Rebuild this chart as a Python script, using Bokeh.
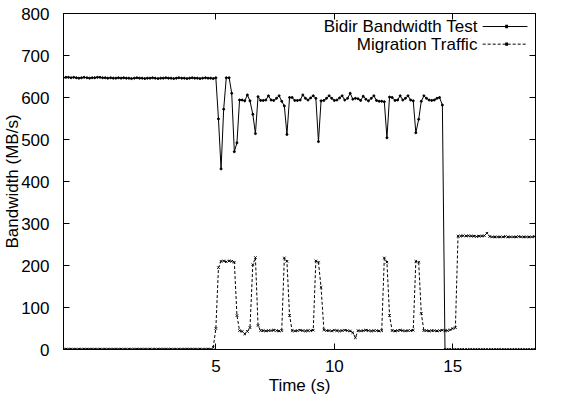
from bokeh.plotting import figure
from bokeh.models import (Range1d, LinearAxis, FixedTicker, Label, Arrow,
                          BoxAnnotation, ColumnDataSource)
from bokeh.embed import file_html
from bokeh.resources import INLINE

# ---------------- data ----------------
time = [
    -1.44, -1.33, -1.22, -1.11, -1.00, -0.89, -0.78, -0.67, -0.56, -0.44, -0.33, -0.22, -0.11,
    0.00, 0.11, 0.22, 0.33, 0.44, 0.56, 0.67, 0.78, 0.89,
    1.00, 1.11, 1.22, 1.33, 1.44, 1.56, 1.67, 1.78, 1.89,
    2.00, 2.11, 2.22, 2.33, 2.44, 2.56, 2.67, 2.78, 2.89,
    3.00, 3.11, 3.22, 3.33, 3.44, 3.56, 3.67, 3.78, 3.89,
    4.00, 4.11, 4.22, 4.33, 4.44, 4.56, 4.67, 4.78, 4.89,
    5.00, 5.11, 5.22, 5.33, 5.44, 5.56, 5.67, 5.78, 5.89,
    6.00, 6.11, 6.22, 6.33, 6.44, 6.56, 6.67, 6.78, 6.89,
    7.00, 7.11, 7.22, 7.33, 7.44, 7.56, 7.67, 7.78, 7.89,
    8.00, 8.11, 8.22, 8.33, 8.44, 8.56, 8.67, 8.78, 8.89,
    9.00, 9.11, 9.22, 9.33, 9.44, 9.56, 9.67, 9.78, 9.89,
    10.00, 10.11, 10.22, 10.33, 10.44, 10.56, 10.67, 10.78, 10.89,
    11.00, 11.11, 11.22, 11.33, 11.44, 11.56, 11.67, 11.78, 11.89,
    12.00, 12.11, 12.22, 12.33, 12.44, 12.56, 12.67, 12.78, 12.89,
    13.00, 13.11, 13.22, 13.33, 13.44, 13.56, 13.67, 13.78, 13.89,
    14.00, 14.11, 14.22, 14.33, 14.44, 14.56, 14.67, 14.78, 14.89,
    15.00, 15.11, 15.22, 15.33, 15.44, 15.56, 15.67, 15.78, 15.89,
    16.00, 16.11, 16.22, 16.33, 16.44, 16.56, 16.67, 16.78, 16.89,
    17.00, 17.11, 17.22, 17.33, 17.44, 17.56, 17.67, 17.78, 17.89,
    18.00, 18.11, 18.22, 18.33, 18.44, 18.56, 18.67,
]

bidir_bandwidth = [
    647, 648, 648, 647, 648, 647, 646, 647, 648, 647, 646, 647, 647,
    648, 648, 647, 647, 646, 647, 646, 646, 647,
    646, 647, 646, 646, 645, 646, 647, 646, 646,
    645, 646, 646, 647, 646, 645, 646, 646, 647,
    646, 646, 645, 646, 647, 646, 646, 645, 646,
    647, 646, 646, 645, 646, 647, 646, 646, 645,
    647, 549, 430, 572, 647, 647, 610, 471, 492,
    594, 594, 592, 606, 592, 560, 514, 602, 593,
    593, 594, 604, 594, 593, 598, 604, 591, 580,
    512, 600, 600, 593, 593, 594, 606, 598, 594,
    599, 604, 598, 495, 592, 593, 598, 604, 598,
    593, 594, 599, 604, 594, 598, 610, 596, 598,
    597, 593, 603, 596, 592, 598, 604, 593, 591,
    591, 590, 504, 601, 600, 593, 594, 604, 594,
    598, 604, 594, 592, 516, 548, 591, 604, 598,
    594, 593, 594, 598, 600, 582, 0, 0, 0,
    0, 0, 0, 0, 0, 0, 0, 0, 0,
    0, 0, 0, 0, 0, 0, 0, 0, 0,
    0, 0, 0, 0, 0, 0, 0, 0, 0,
    0, 0, 0, 0, 0, 0, 0,
]

migration_traffic = [
    1, 1, 1, 1, 1, 1, 1, 1, 1, 1, 1, 1, 1,
    1, 1, 1, 1, 1, 1, 1, 1, 1,
    1, 1, 1, 1, 1, 1, 1, 1, 1,
    1, 1, 1, 1, 1, 1, 1, 1, 1,
    1, 1, 1, 1, 1, 1, 1, 1, 1,
    1, 1, 1, 1, 1, 1, 1, 1, 5,
    50, 195, 210, 211, 209, 211, 210, 208, 81,
    45, 43, 37, 43, 52, 202, 219, 57, 45,
    45, 44, 45, 45, 46, 45, 44, 45, 218,
    210, 81, 45, 44, 45, 46, 45, 44, 45,
    45, 46, 211, 208, 148, 47, 45, 45, 44,
    46, 45, 44, 45, 46, 45, 44, 40, 28,
    45, 44, 45, 46, 45, 44, 45, 45, 44,
    45, 218, 208, 81, 45, 44, 45, 46, 45,
    44, 45, 45, 46, 210, 208, 86, 45, 45,
    44, 45, 45, 44, 45, 46, 45, 45, 47,
    50, 52, 270, 270, 271, 270, 271, 270, 270,
    269, 270, 270, 271, 277, 269, 268, 268, 268,
    268, 268, 269, 268, 268, 268, 268, 269, 268,
    268, 268, 268, 268, 269, 268, 268,
]

series_names = ["Bidir Bandwidth Test", "Migration Traffic"]
x_ticks = [5, 10, 15]
y_ticks = [0, 100, 200, 300, 400, 500, 600, 700, 800]
x_label = "Time (s)"
y_label = "Bandwidth (MB/s)"

FONT = "Liberation Sans"
FS = "17px"

source = ColumnDataSource(dict(t=time, bidir=bidir_bandwidth, mig=migration_traffic))

p = figure(width=548, height=397, output_backend="svg", toolbar_location=None,
           x_range=Range1d(-1.43, 18.49), y_range=Range1d(0, 800),
           min_border_left=62, min_border_right=13, min_border_top=13,
           min_border_bottom=45)
p.grid.visible = False
p.outline_line_color = "black"
p.outline_line_width = 1
p.background_fill_color = "white"
p.border_fill_color = "white"

# series
p.line("t", "bidir", source=source, line_color="black", line_width=1)
p.scatter("t", "bidir", source=source, marker="circle", size=2, color="black")
p.line("t", "mig", source=source, line_color="black", line_width=1, line_dash="3 2")
p.scatter("t", "mig", source=source, marker="x", size=3.5, color="black", line_width=1)

# axes
def style_axis(ax, labels=True):
    ax.major_tick_in = 6
    ax.major_tick_out = 0
    ax.minor_tick_line_color = None
    ax.axis_line_color = "black"
    ax.major_tick_line_color = "black"
    ax.major_label_text_font = FONT
    ax.axis_label_text_font = FONT
    ax.axis_label_text_font_style = "normal"
    ax.axis_label_text_font_size = FS
    ax.axis_label_text_color = "black"
    if labels:
        ax.major_label_text_font_size = FS
        ax.major_label_text_color = "black"
    else:
        ax.major_label_text_font_size = "1px"
        ax.major_label_text_color = None
        ax.major_label_standoff = 0

p.xaxis.ticker = FixedTicker(ticks=x_ticks)
p.yaxis.ticker = FixedTicker(ticks=y_ticks)
style_axis(p.xaxis[0])
style_axis(p.yaxis[0])
p.xaxis.axis_label = x_label
p.yaxis.axis_label = y_label
p.yaxis.major_label_standoff = 14
p.yaxis.axis_label_standoff = -4
p.xaxis.major_label_standoff = 10
p.xaxis.axis_label_standoff = 1

ax_r = LinearAxis(ticker=FixedTicker(ticks=y_ticks))
style_axis(ax_r, labels=False)
p.add_layout(ax_r, "right")
ax_t = LinearAxis(ticker=FixedTicker(ticks=x_ticks))
style_axis(ax_t, labels=False)
p.add_layout(ax_t, "above")

# gnuplot-style key (label then sample)
key_rows = [(769, None), (727, "3 2")]
for name, (ky, dash) in zip(series_names, key_rows):
    p.add_layout(Label(x=16.05, y=ky, text=name, text_align="right",
                       text_baseline="middle", text_font=FONT,
                       text_font_size=FS, text_color="black"))
    arr = Arrow(end=None, x_start=16.26, y_start=ky, x_end=18.15, y_end=ky,
                line_color="black", line_width=1)
    if dash:
        arr.line_dash = dash
    p.add_layout(arr)
    p.add_layout(BoxAnnotation(left=17.21, right=17.33, bottom=ky - 4, top=ky + 4,
                               fill_color="black", fill_alpha=1, line_color=None))

open("out.html", "w").write(file_html(p, INLINE))
